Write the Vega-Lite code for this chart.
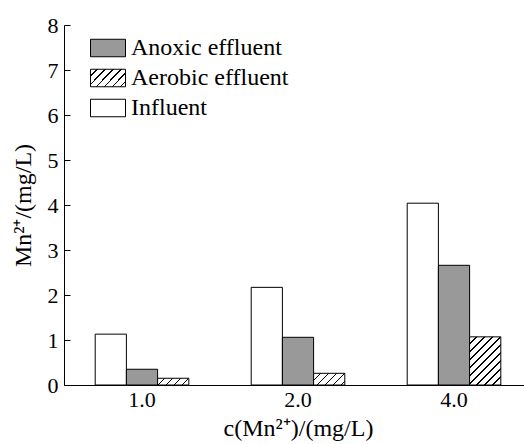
{
  "$schema": "https://vega.github.io/schema/vega-lite/v6.json",
  "autosize": {"type": "none"},
  "width": 460,
  "height": 360,
  "padding": {"left": 64, "top": 25, "right": 0, "bottom": 59},
  "background": "white",
  "config": {
    "view": {"stroke": null},
    "font": "Liberation Serif",
    "axis": {
      "domainColor": "black",
      "tickColor": "black",
      "labelColor": "black",
      "titleColor": "black",
      "labelFont": "Liberation Serif",
      "titleFont": "Liberation Serif",
      "labelFontSize": 22,
      "titleFontSize": 24,
      "titleFontWeight": "normal",
      "grid": false
    },
    "legend": {
      "labelFont": "Liberation Serif",
      "labelFontSize": 24,
      "labelColor": "black"
    }
  },
  "data": {
    "values": [
      {"conc": "1.0", "series": "Influent", "value": 1.13},
      {"conc": "1.0", "series": "Anoxic effluent", "value": 0.35},
      {"conc": "1.0", "series": "Aerobic effluent", "value": 0.15},
      {"conc": "2.0", "series": "Influent", "value": 2.17},
      {"conc": "2.0", "series": "Anoxic effluent", "value": 1.06},
      {"conc": "2.0", "series": "Aerobic effluent", "value": 0.26},
      {"conc": "4.0", "series": "Influent", "value": 4.04},
      {"conc": "4.0", "series": "Anoxic effluent", "value": 2.66},
      {"conc": "4.0", "series": "Aerobic effluent", "value": 1.07}
    ]
  },
  "mark": {"type": "bar", "stroke": "black", "strokeWidth": 1},
  "encoding": {
    "x": {
      "field": "conc",
      "type": "nominal",
      "scale": {"type": "band", "domain": ["1.0", "2.0", "4.0"], "range": [0, 468], "paddingInner": 0.4, "paddingOuter": 0.2},
      "axis": {
        "title": "c(Mn²⁺)/(mg/L)",
        "labelAngle": 0,
        "tickSize": -6,
        "labelPadding": 10,
        "titlePadding": 6,
        "domainWidth": 1
      }
    },
    "xOffset": {
      "field": "series",
      "type": "nominal",
      "scale": {"domain": ["Influent", "Anoxic effluent", "Aerobic effluent"], "paddingInner": 0, "paddingOuter": 0}
    },
    "y": {
      "field": "value",
      "type": "quantitative",
      "scale": {"domain": [0, 8], "nice": false},
      "axis": {
        "title": "Mn²⁺/(mg/L)",
        "values": [0, 1, 2, 3, 4, 5, 6, 7, 8],
        "tickSize": -6,
        "labelPadding": 12,
        "titlePadding": 12,
        "domainWidth": 1
      }
    },
    "fill": {
      "field": "series",
      "type": "nominal",
      "condition": [
        {
          "test": "datum.series === 'Aerobic effluent' && datum.conc === '1.0'",
          "value": {"gradient": "linear", "x1": 0, "y1": 0, "x2": 3.062, "y2": 0.662,
            "stops": [
              {"offset": 0, "color": "white"}, {"offset": 0.062, "color": "white"}, {"offset": 0.062, "color": "black"}, {"offset": 0.08, "color": "black"},
              {"offset": 0.08, "color": "white"}, {"offset": 0.142, "color": "white"}, {"offset": 0.142, "color": "black"}, {"offset": 0.16, "color": "black"},
              {"offset": 0.16, "color": "white"}, {"offset": 0.222, "color": "white"}, {"offset": 0.222, "color": "black"}, {"offset": 0.24, "color": "black"},
              {"offset": 0.24, "color": "white"}, {"offset": 0.302, "color": "white"}, {"offset": 0.302, "color": "black"}, {"offset": 0.32, "color": "black"},
              {"offset": 0.32, "color": "white"}, {"offset": 0.382, "color": "white"}, {"offset": 0.382, "color": "black"}, {"offset": 0.4, "color": "black"},
              {"offset": 0.4, "color": "white"}, {"offset": 0.462, "color": "white"}, {"offset": 0.462, "color": "black"}, {"offset": 0.48, "color": "black"},
              {"offset": 0.48, "color": "white"}, {"offset": 0.542, "color": "white"}, {"offset": 0.542, "color": "black"}, {"offset": 0.56, "color": "black"},
              {"offset": 0.56, "color": "white"}, {"offset": 0.622, "color": "white"}, {"offset": 0.622, "color": "black"}, {"offset": 0.64, "color": "black"},
              {"offset": 0.64, "color": "white"}, {"offset": 0.702, "color": "white"}, {"offset": 0.702, "color": "black"}, {"offset": 0.72, "color": "black"},
              {"offset": 0.72, "color": "white"}, {"offset": 0.782, "color": "white"}, {"offset": 0.782, "color": "black"}, {"offset": 0.8, "color": "black"},
              {"offset": 0.8, "color": "white"}, {"offset": 0.862, "color": "white"}, {"offset": 0.862, "color": "black"}, {"offset": 0.88, "color": "black"},
              {"offset": 0.88, "color": "white"}, {"offset": 0.942, "color": "white"}, {"offset": 0.942, "color": "black"}, {"offset": 0.96, "color": "black"},
              {"offset": 0.96, "color": "white"}, {"offset": 1, "color": "white"}
            ]}
        },
        {
          "test": "datum.series === 'Aerobic effluent' && datum.conc === '2.0'",
          "value": {"gradient": "linear", "x1": 0, "y1": 0, "x2": 2.81, "y2": 1.054,
            "stops": [
              {"offset": 0, "color": "white"}, {"offset": 0.062, "color": "white"}, {"offset": 0.062, "color": "black"}, {"offset": 0.08, "color": "black"},
              {"offset": 0.08, "color": "white"}, {"offset": 0.142, "color": "white"}, {"offset": 0.142, "color": "black"}, {"offset": 0.16, "color": "black"},
              {"offset": 0.16, "color": "white"}, {"offset": 0.222, "color": "white"}, {"offset": 0.222, "color": "black"}, {"offset": 0.24, "color": "black"},
              {"offset": 0.24, "color": "white"}, {"offset": 0.302, "color": "white"}, {"offset": 0.302, "color": "black"}, {"offset": 0.32, "color": "black"},
              {"offset": 0.32, "color": "white"}, {"offset": 0.382, "color": "white"}, {"offset": 0.382, "color": "black"}, {"offset": 0.4, "color": "black"},
              {"offset": 0.4, "color": "white"}, {"offset": 0.462, "color": "white"}, {"offset": 0.462, "color": "black"}, {"offset": 0.48, "color": "black"},
              {"offset": 0.48, "color": "white"}, {"offset": 0.542, "color": "white"}, {"offset": 0.542, "color": "black"}, {"offset": 0.56, "color": "black"},
              {"offset": 0.56, "color": "white"}, {"offset": 0.622, "color": "white"}, {"offset": 0.622, "color": "black"}, {"offset": 0.64, "color": "black"},
              {"offset": 0.64, "color": "white"}, {"offset": 0.702, "color": "white"}, {"offset": 0.702, "color": "black"}, {"offset": 0.72, "color": "black"},
              {"offset": 0.72, "color": "white"}, {"offset": 0.782, "color": "white"}, {"offset": 0.782, "color": "black"}, {"offset": 0.8, "color": "black"},
              {"offset": 0.8, "color": "white"}, {"offset": 0.862, "color": "white"}, {"offset": 0.862, "color": "black"}, {"offset": 0.88, "color": "black"},
              {"offset": 0.88, "color": "white"}, {"offset": 0.942, "color": "white"}, {"offset": 0.942, "color": "black"}, {"offset": 0.96, "color": "black"},
              {"offset": 0.96, "color": "white"}, {"offset": 1, "color": "white"}
            ]}
        },
        {
          "test": "datum.series === 'Aerobic effluent' && datum.conc === '4.0'",
          "value": {"gradient": "linear", "x1": 0, "y1": 0, "x2": 0.948, "y2": 1.463,
            "stops": [
              {"offset": 0, "color": "white"}, {"offset": 0.062, "color": "white"}, {"offset": 0.062, "color": "black"}, {"offset": 0.08, "color": "black"},
              {"offset": 0.08, "color": "white"}, {"offset": 0.142, "color": "white"}, {"offset": 0.142, "color": "black"}, {"offset": 0.16, "color": "black"},
              {"offset": 0.16, "color": "white"}, {"offset": 0.222, "color": "white"}, {"offset": 0.222, "color": "black"}, {"offset": 0.24, "color": "black"},
              {"offset": 0.24, "color": "white"}, {"offset": 0.302, "color": "white"}, {"offset": 0.302, "color": "black"}, {"offset": 0.32, "color": "black"},
              {"offset": 0.32, "color": "white"}, {"offset": 0.382, "color": "white"}, {"offset": 0.382, "color": "black"}, {"offset": 0.4, "color": "black"},
              {"offset": 0.4, "color": "white"}, {"offset": 0.462, "color": "white"}, {"offset": 0.462, "color": "black"}, {"offset": 0.48, "color": "black"},
              {"offset": 0.48, "color": "white"}, {"offset": 0.542, "color": "white"}, {"offset": 0.542, "color": "black"}, {"offset": 0.56, "color": "black"},
              {"offset": 0.56, "color": "white"}, {"offset": 0.622, "color": "white"}, {"offset": 0.622, "color": "black"}, {"offset": 0.64, "color": "black"},
              {"offset": 0.64, "color": "white"}, {"offset": 0.702, "color": "white"}, {"offset": 0.702, "color": "black"}, {"offset": 0.72, "color": "black"},
              {"offset": 0.72, "color": "white"}, {"offset": 0.782, "color": "white"}, {"offset": 0.782, "color": "black"}, {"offset": 0.8, "color": "black"},
              {"offset": 0.8, "color": "white"}, {"offset": 0.862, "color": "white"}, {"offset": 0.862, "color": "black"}, {"offset": 0.88, "color": "black"},
              {"offset": 0.88, "color": "white"}, {"offset": 0.942, "color": "white"}, {"offset": 0.942, "color": "black"}, {"offset": 0.96, "color": "black"},
              {"offset": 0.96, "color": "white"}, {"offset": 1, "color": "white"}
            ]}
        }
      ],
      "scale": {
        "domain": ["Anoxic effluent", "Aerobic effluent", "Influent"],
        "range": [
          "#999999",
          {"expr": "{gradient: 'linear', x1: 0, y1: 0, x2: 2.29, y2: 1.14, stops: [{offset: 0, color: 'white'}, {offset: 0.062, color: 'white'}, {offset: 0.062, color: 'black'}, {offset: 0.08, color: 'black'}, {offset: 0.08, color: 'white'}, {offset: 0.142, color: 'white'}, {offset: 0.142, color: 'black'}, {offset: 0.16, color: 'black'}, {offset: 0.16, color: 'white'}, {offset: 0.222, color: 'white'}, {offset: 0.222, color: 'black'}, {offset: 0.24, color: 'black'}, {offset: 0.24, color: 'white'}, {offset: 0.302, color: 'white'}, {offset: 0.302, color: 'black'}, {offset: 0.32, color: 'black'}, {offset: 0.32, color: 'white'}, {offset: 0.382, color: 'white'}, {offset: 0.382, color: 'black'}, {offset: 0.4, color: 'black'}, {offset: 0.4, color: 'white'}, {offset: 0.462, color: 'white'}, {offset: 0.462, color: 'black'}, {offset: 0.48, color: 'black'}, {offset: 0.48, color: 'white'}, {offset: 0.542, color: 'white'}, {offset: 0.542, color: 'black'}, {offset: 0.56, color: 'black'}, {offset: 0.56, color: 'white'}, {offset: 1, color: 'white'}]}"},
          "#ffffff"
        ]
      },
      "legend": {
        "title": null,
        "orient": "none",
        "legendX": 32,
        "legendY": 11,
        "padding": 0,
        "symbolType": "M-2,-1H2V1H-2Z",
        "symbolSize": 306.25,
        "symbolStrokeColor": "black",
        "symbolStrokeWidth": 1,
        "symbolOpacity": 1,
        "labelFont": "Liberation Serif",
        "labelFontSize": 24,
        "labelColor": "black",
        "labelOffset": 11,
        "rowPadding": 6,
        "labelLimit": 300,
        "encode": {
          "symbols": {
            "update": {
              "stroke": {"value": "black"},
              "strokeWidth": {"value": 1}
            }
          }
        }
      }
    }
  }
}
